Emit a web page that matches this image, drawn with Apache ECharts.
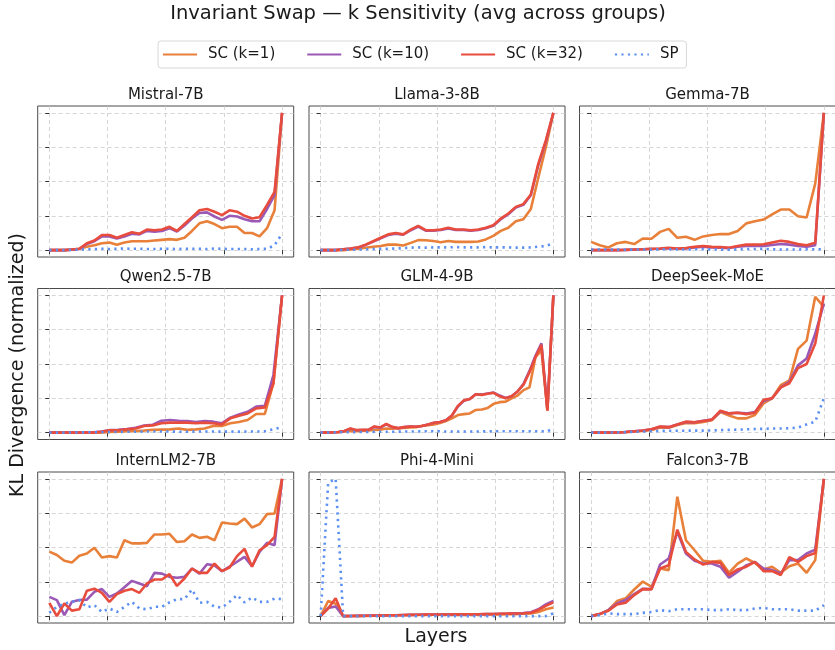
<!DOCTYPE html>
<html>
<head>
<meta charset="utf-8">
<title>Invariant Swap — k Sensitivity</title>
<script src="https://cdn.jsdelivr.net/npm/echarts@6/dist/echarts.min.js"></script>
<style>
    html, body { margin: 0; padding: 0; background: #fff; }
    #chart { width: 835px; height: 650px; }
</style>
</head>
<body>
<div id="chart"></div>
<script>
// ---- data (normalized KL, one value per layer) ----
var mistralK1 = [0,0,0,0.003,0.01,0.025,0.035,0.05,0.055,0.04,0.055,0.065,0.065,0.065,0.07,0.075,0.08,0.075,0.09,0.14,0.195,0.21,0.19,0.16,0.17,0.17,0.125,0.125,0.10,0.16,0.29,1.0];
var mistralK10 = [0,0,0,0.004,0.008,0.045,0.065,0.1,0.1,0.085,0.1,0.12,0.115,0.14,0.135,0.14,0.16,0.135,0.18,0.23,0.27,0.275,0.245,0.22,0.25,0.245,0.225,0.21,0.21,0.30,0.40,1.0];
var mistralK32 = [0,0,0,0.005,0.01,0.05,0.07,0.11,0.11,0.09,0.11,0.13,0.12,0.15,0.145,0.15,0.17,0.14,0.19,0.24,0.29,0.30,0.28,0.255,0.29,0.28,0.25,0.23,0.24,0.33,0.425,1.0];
var mistralSP = [0,0,0,0.002,0.004,0.006,0.008,0.01,0.008,0.01,0.012,0.01,0.01,0.008,0.008,0.01,0.01,0.008,0.01,0.01,0.01,0.008,0.012,0.01,0.008,0.008,0.008,0.006,0.008,0.01,0.035,0.12];

var llamaK1 = [0,0,0,0,0.005,0.01,0.017,0.025,0.03,0.04,0.04,0.034,0.053,0.073,0.072,0.066,0.058,0.066,0.06,0.06,0.06,0.063,0.078,0.104,0.14,0.163,0.21,0.225,0.30,0.53,0.75,1.0];
var llamaK10 = [0,0,0,0.006,0.011,0.019,0.038,0.062,0.087,0.11,0.12,0.112,0.145,0.172,0.142,0.142,0.147,0.158,0.147,0.147,0.142,0.147,0.16,0.178,0.225,0.262,0.31,0.33,0.40,0.62,0.79,1.0];
var llamaK32 = [0,0,0,0.007,0.012,0.02,0.04,0.065,0.09,0.115,0.125,0.115,0.15,0.177,0.145,0.145,0.15,0.163,0.15,0.15,0.145,0.15,0.163,0.182,0.23,0.267,0.315,0.335,0.405,0.63,0.80,1.0];
var llamaSP = [0,0,0,0.002,0.003,0.004,0.006,0.008,0.01,0.01,0.012,0.014,0.018,0.02,0.018,0.02,0.02,0.02,0.022,0.02,0.02,0.02,0.022,0.02,0.02,0.02,0.018,0.018,0.02,0.025,0.03,0.05];

var gemmaK1 = [0.06,0.036,0.02,0.05,0.06,0.044,0.085,0.083,0.133,0.155,0.09,0.097,0.075,0.10,0.11,0.117,0.117,0.14,0.195,0.21,0.223,0.26,0.296,0.296,0.247,0.238,0.485,1.0];
var gemmaK10 = [0,0,0,0,0.002,0.004,0.006,0.008,0.01,0.014,0.01,0.012,0.02,0.025,0.02,0.018,0.015,0.025,0.03,0.03,0.03,0.038,0.045,0.04,0.03,0.025,0.036,1.0];
var gemmaK32 = [0,0,0,0,0.002,0.005,0.007,0.01,0.012,0.017,0.012,0.015,0.024,0.03,0.024,0.022,0.017,0.03,0.04,0.04,0.043,0.056,0.068,0.06,0.044,0.036,0.053,1.0];
var gemmaSP = [0.005,0.005,0.004,0.004,0.003,0.004,0.005,0.005,0.006,0.006,0.005,0.005,0.006,0.006,0.005,0.004,0.004,0.006,0.008,0.008,0.01,0.006,0.004,0.005,0.005,0.006,0.006,0.006];

var qwenK1 = [0,0,0,0,0,0,0,0.005,0.007,0.01,0.012,0.015,0.02,0.022,0.024,0.03,0.02,0.024,0.03,0.048,0.048,0.068,0.077,0.092,0.136,0.136,0.36,1.0];
var qwenK10 = [0,0,0,0,0,0,0.008,0.018,0.02,0.027,0.035,0.052,0.058,0.087,0.092,0.087,0.085,0.078,0.085,0.08,0.068,0.109,0.133,0.152,0.19,0.196,0.42,1.0];
var qwenK32 = [0,0,0,0,0,0,0.007,0.017,0.017,0.024,0.03,0.048,0.053,0.068,0.073,0.073,0.073,0.068,0.073,0.068,0.06,0.104,0.123,0.14,0.177,0.184,0.36,1.0];
var qwenSP = [0,0,0,0.002,0.002,0.003,0.004,0.005,0.005,0.006,0.006,0.008,0.008,0.008,0.008,0.007,0.007,0.008,0.008,0.008,0.007,0.008,0.007,0.008,0.008,0.01,0.024,0.04];

var glmK1 = [0,0,0.002,0.004,0.008,0.012,0.01,0.012,0.015,0.02,0.022,0.03,0.028,0.03,0.035,0.038,0.04,0.05,0.055,0.06,0.07,0.085,0.104,0.128,0.135,0.14,0.165,0.168,0.18,0.21,0.222,0.226,0.25,0.27,0.31,0.33,0.55,0.6,0.16,1.0];
var glmK10 = [0,0,0.003,0.005,0.012,0.028,0.017,0.019,0.02,0.042,0.036,0.06,0.04,0.032,0.04,0.045,0.043,0.048,0.06,0.072,0.078,0.09,0.125,0.19,0.232,0.245,0.28,0.278,0.285,0.292,0.27,0.252,0.265,0.30,0.355,0.45,0.56,0.65,0.17,1.0];
var glmK32 = [0,0,0.003,0.005,0.012,0.03,0.018,0.02,0.02,0.045,0.038,0.063,0.042,0.033,0.04,0.045,0.043,0.048,0.06,0.072,0.078,0.09,0.125,0.195,0.235,0.245,0.28,0.275,0.283,0.29,0.265,0.25,0.265,0.30,0.35,0.44,0.55,0.64,0.16,1.0];
var glmSP = [0,0,0.002,0.003,0.003,0.004,0.004,0.005,0.005,0.006,0.006,0.006,0.007,0.007,0.008,0.008,0.008,0.01,0.01,0.01,0.01,0.008,0.008,0.008,0.008,0.008,0.008,0.009,0.009,0.01,0.01,0.01,0.01,0.01,0.01,0.01,0.01,0.01,0.01,0.03];

var deepseekK1 = [0,0,0,0.002,0.004,0.008,0.012,0.02,0.038,0.036,0.055,0.07,0.068,0.078,0.09,0.15,0.125,0.104,0.104,0.128,0.213,0.25,0.346,0.38,0.61,0.67,0.99,0.915];
var deepseekK10 = [0,0,0,0.002,0.005,0.01,0.015,0.025,0.043,0.04,0.06,0.078,0.075,0.087,0.095,0.155,0.14,0.145,0.14,0.15,0.23,0.25,0.33,0.37,0.49,0.54,0.72,0.94];
var deepseekK32 = [0,0,0,0.002,0.005,0.01,0.015,0.025,0.045,0.04,0.06,0.08,0.075,0.085,0.095,0.16,0.14,0.145,0.135,0.145,0.24,0.25,0.33,0.36,0.47,0.50,0.65,1.0];
var deepseekSP = [0,0,0,0.002,0.004,0.006,0.008,0.01,0.012,0.014,0.014,0.014,0.015,0.015,0.016,0.018,0.02,0.022,0.024,0.026,0.028,0.03,0.03,0.032,0.036,0.06,0.08,0.25];

var internK1 = [0.47,0.445,0.403,0.39,0.44,0.456,0.498,0.427,0.437,0.427,0.553,0.53,0.53,0.534,0.595,0.595,0.60,0.54,0.546,0.595,0.57,0.578,0.553,0.682,0.675,0.67,0.71,0.646,0.67,0.743,0.748,1.0];
var internK10 = [0.14,0.117,0.007,0.104,0.117,0.12,0.177,0.197,0.14,0.165,0.21,0.257,0.238,0.218,0.315,0.31,0.286,0.28,0.286,0.347,0.31,0.378,0.37,0.328,0.36,0.396,0.432,0.364,0.468,0.534,0.517,1.0];
var internK32 = [0.097,0,0.092,0.04,0.05,0.185,0.2,0.17,0.104,0.16,0.185,0.197,0.17,0.238,0.267,0.267,0.306,0.22,0.274,0.347,0.315,0.315,0.383,0.328,0.354,0.437,0.49,0.36,0.48,0.517,0.578,1.0];
var internSP = [0.024,0.068,0.092,0.104,0.117,0.063,0.08,0.03,0.056,0.03,0.068,0.104,0.056,0.05,0.068,0.068,0.1,0.124,0.124,0.194,0.097,0.104,0.068,0.063,0.104,0.153,0.1,0.136,0.104,0.104,0.128,0.124];

var phiK1 = [0,0.11,0.09,0,0.001,0.002,0.002,0.003,0.004,0.005,0.006,0.007,0.008,0.008,0.009,0.01,0.01,0.01,0.01,0.01,0.011,0.011,0.012,0.012,0.013,0.014,0.015,0.017,0.02,0.03,0.05,0.063];
var phiK10 = [0,0.06,0.07,0,0.001,0.002,0.003,0.004,0.005,0.006,0.007,0.008,0.009,0.01,0.011,0.012,0.012,0.012,0.013,0.013,0.014,0.014,0.015,0.016,0.017,0.018,0.02,0.022,0.028,0.05,0.085,0.11];
var phiK32 = [0,0.055,0.13,0,0.001,0.002,0.003,0.004,0.005,0.006,0.007,0.008,0.009,0.01,0.011,0.012,0.012,0.012,0.013,0.013,0.014,0.014,0.015,0.016,0.017,0.018,0.019,0.021,0.025,0.045,0.075,0.1];
var phiSP = [0,0.97,1.0,0,0,0,0,0,0,0,0,0,0,0,0,0,0,0,0,0,0,0,0,0,0,0,0,0,0,0,0,0.02];

var falconK1 = [0,0.015,0.044,0.11,0.13,0.194,0.252,0.214,0.347,0.335,0.87,0.553,0.48,0.403,0.395,0.403,0.316,0.383,0.42,0.388,0.34,0.36,0.316,0.364,0.383,0.316,0.408,1.0];
var falconK10 = [0,0.015,0.044,0.092,0.117,0.16,0.2,0.198,0.376,0.42,0.614,0.456,0.403,0.383,0.383,0.36,0.28,0.323,0.37,0.395,0.347,0.335,0.31,0.408,0.408,0.456,0.485,1.0];
var falconK32 = [0,0.015,0.039,0.085,0.097,0.153,0.197,0.195,0.347,0.37,0.63,0.468,0.413,0.376,0.395,0.388,0.3,0.34,0.36,0.395,0.328,0.328,0.3,0.43,0.395,0.437,0.46,1.0];
var falconSP = [0,0.007,0.02,0.015,0.015,0.015,0.024,0.03,0.044,0.036,0.05,0.05,0.05,0.05,0.044,0.044,0.05,0.044,0.044,0.056,0.06,0.05,0.05,0.05,0.04,0.04,0.04,0.08];

var modelNames = ['Mistral-7B', 'Llama-3-8B', 'Gemma-7B', 'Qwen2.5-7B', 'GLM-4-9B', 'DeepSeek-MoE', 'InternLM2-7B', 'Phi-4-Mini', 'Falcon3-7B'];
var seriesNames = ['SC (k=1)', 'SC (k=10)', 'SC (k=32)', 'SP'];
var tickValues = [0, 0.25, 0.5, 0.75, 1];

var panelData = [
    [mistralK1, mistralK10, mistralK32, mistralSP],
    [llamaK1, llamaK10, llamaK32, llamaSP],
    [gemmaK1, gemmaK10, gemmaK32, gemmaSP],
    [qwenK1, qwenK10, qwenK32, qwenSP],
    [glmK1, glmK10, glmK32, glmSP],
    [deepseekK1, deepseekK10, deepseekK32, deepseekSP],
    [internK1, internK10, internK32, internSP],
    [phiK1, phiK10, phiK32, phiSP],
    [falconK1, falconK10, falconK32, falconSP]
];

var myChart = echarts.init(document.getElementById('chart'));
var font = 'DejaVu Sans';
var colors = ['#E8803A', '#9B59B6', '#E74C3C', '#5B8FF0'];
var colLeft = [37.7, 309, 579.5];
var rowTop = [106, 288.5, 472];
var boxW = 256, boxH = 151;

// layer index -> relative depth 0..1
function toPoints(values) {
    var n = values.length;
    return values.map(function (v, i) { return [i / (n - 1), v]; });
}

var grids = [], xAxes = [], yAxes = [], series = [], graphics = [];

for (var p = 0; p < 9; p++) {
    var r = Math.floor(p / 3), c = p % 3;
    grids.push({
        left: colLeft[c], top: rowTop[r], width: boxW, height: boxH,
        show: true, borderColor: '#4a4a4a', borderWidth: 1,
        outerBoundsMode: 'none'
    });
    var axisCommon = {
        gridIndex: p,
        type: 'value',
        min: -0.05,
        max: 1.05,
        axisLine: { show: false },
        axisLabel: { show: false, customValues: tickValues },
        axisTick: { show: true, length: 4, customValues: tickValues, lineStyle: { color: '#333', width: 1 } },
        splitLine: { show: true, lineStyle: { color: '#cccccc', type: [4, 3], width: 0.8 } }
    };
    xAxes.push(echarts.util.merge({}, axisCommon, true));
    yAxes.push(echarts.util.merge({}, axisCommon, true));

    for (var s = 0; s < 4; s++) {
        series.push({
            name: seriesNames[s],
            type: 'line',
            xAxisIndex: p,
            yAxisIndex: p,
            data: toPoints(panelData[p][s]),
            symbol: 'none',
            showSymbol: false,
            z: 2 + s,
            lineStyle: {
                color: colors[s],
                width: 2.6,
                type: s === 3 ? [2.2, 4.3] : 'solid'
            },
            itemStyle: { color: colors[s] }
        });
    }

    graphics.push({
        type: 'text',
        x: colLeft[c] + boxW / 2,
        y: rowTop[r] - 11,
        style: {
            text: modelNames[p],
            font: '15px ' + font,
            fill: '#1a1a1a',
            textAlign: 'center',
            textVerticalAlign: 'middle'
        }
    });
}

graphics.push({
    type: 'text',
    x: 418, y: 14,
    style: { text: 'Invariant Swap — k Sensitivity (avg across groups)', font: '19.5px ' + font, fill: '#1a1a1a', textAlign: 'center', textVerticalAlign: 'middle' }
});
graphics.push({
    type: 'text',
    x: 436, y: 637,
    style: { text: 'Layers', font: '19px ' + font, fill: '#1a1a1a', textAlign: 'center', textVerticalAlign: 'middle' }
});
graphics.push({
    type: 'text',
    x: 18, y: 365,
    rotation: Math.PI / 2,
    style: { text: 'KL Divergence (normalized)', font: '19px ' + font, fill: '#1a1a1a', textAlign: 'center', textVerticalAlign: 'middle' }
});

var option = {
    backgroundColor: '#fff',
    animation: false,
    legend: {
        data: seriesNames,
        left: 158,
        top: 41,
        orient: 'horizontal',
        itemWidth: 34,
        itemHeight: 14,
        itemGap: 31,
        padding: [6, 8, 6, 4],
        borderColor: '#d8d8d8',
        borderWidth: 1,
        borderRadius: 3,
        itemStyle: { opacity: 0 },
        textStyle: { fontFamily: font, fontSize: 15, color: '#1a1a1a', padding: [0, 0, 0, 6] }
    },
    grid: grids,
    xAxis: xAxes,
    yAxis: yAxes,
    series: series,
    graphic: graphics
};
myChart.setOption(option);
</script>
</body>
</html>
